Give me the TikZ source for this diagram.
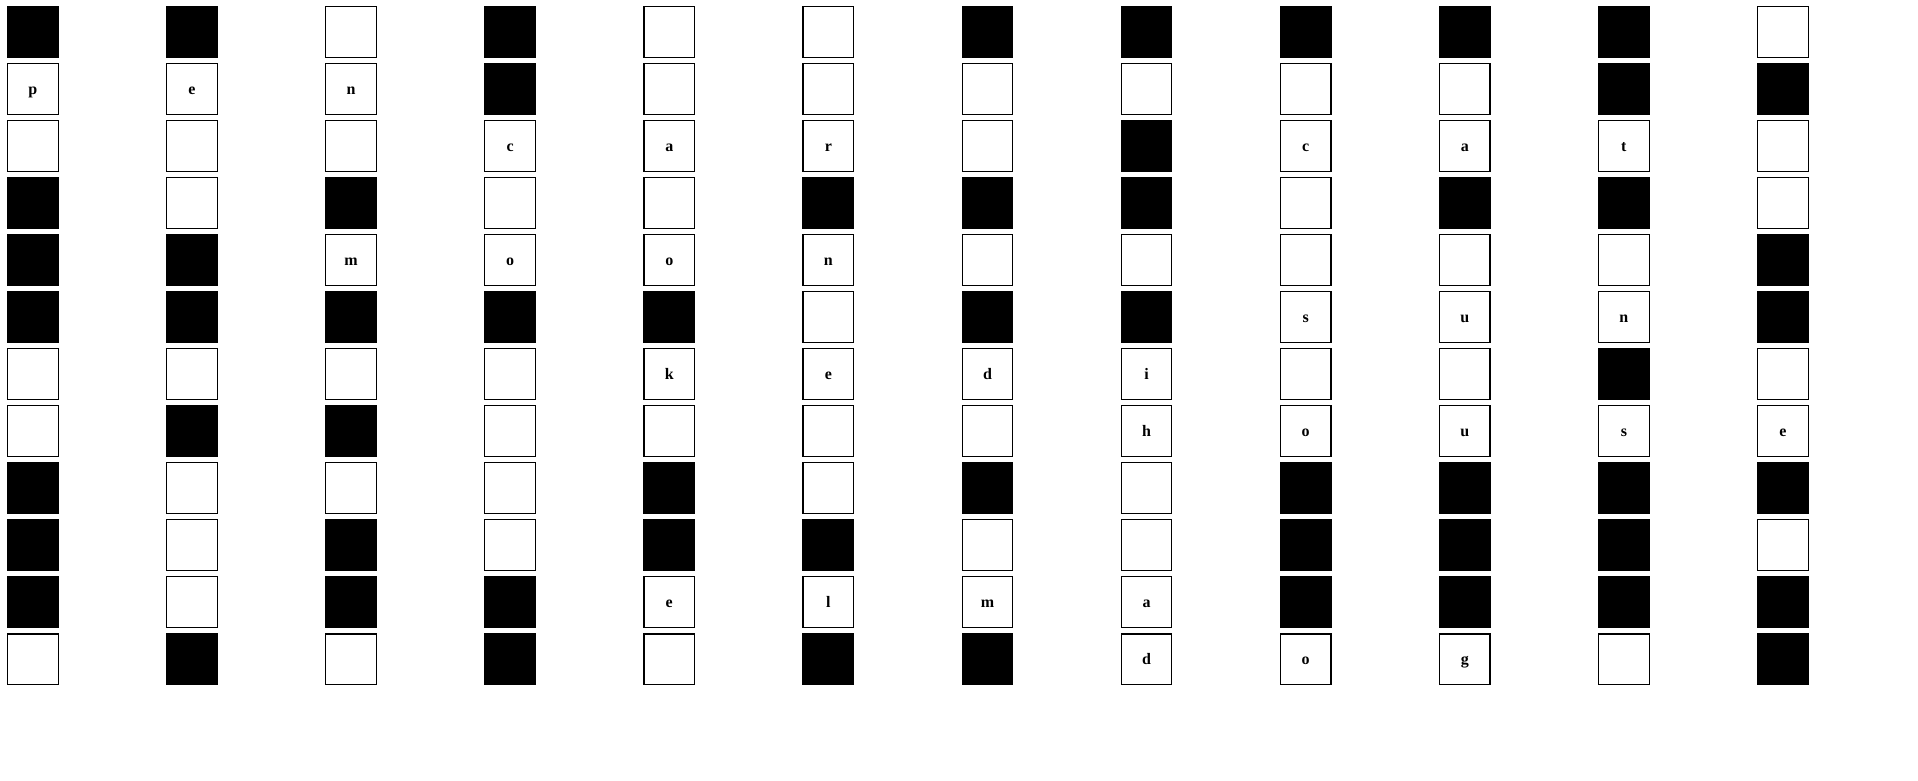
\documentclass[tikz,border=0pt]{standalone}
\usepackage{fontspec}
\setmainfont{Liberation Serif}
\tikzset{
  cellbox/.style={draw=black, line width=0.9pt, minimum size=37.9pt, inner sep=0pt, outer sep=0pt,
    font=\bfseries\fontsize{12}{13}\selectfont, text height=0.46em+4pt, text depth=0pt},
  blackbox/.style={cellbox, fill=black}
}
\begin{document}
\begin{tikzpicture}[x=0.75pt,y=-0.75pt]
\path[use as bounding box] (0,0) rectangle (1918,781);
\foreach \col [count=\i from 0] in {
  {B,p,W,B,B,B,W,W,B,B,B,W},
  {B,e,W,W,B,B,W,B,W,W,W,B},
  {W,n,W,B,m,B,W,B,W,B,B,W},
  {B,B,c,W,o,B,W,W,W,W,B,B},
  {W,W,a,W,o,B,k,W,B,B,e,W},
  {W,W,r,B,n,W,e,W,W,B,l,B},
  {B,W,W,B,W,B,d,W,B,W,m,B},
  {B,W,B,B,W,B,i,h,W,W,a,d},
  {B,W,c,W,W,s,W,o,B,B,B,o},
  {B,W,a,B,W,u,W,u,B,B,B,g},
  {B,B,t,B,W,n,B,s,B,B,B,W},
  {W,B,W,W,B,B,W,e,B,W,B,B}}{
  \foreach \v [count=\j from 0] in \col {
    \if B\v
      \node[blackbox] (c-\i-\j) at ({32.85+159.1*\i},{31.85+57.03*\j}) {};
    \else
      \if W\v
        \node[cellbox] (c-\i-\j) at ({32.85+159.1*\i},{31.85+57.03*\j}) {};
      \else
        \node[cellbox] (c-\i-\j) at ({32.85+159.1*\i},{31.85+57.03*\j}) {\v};
      \fi
    \fi
  }
}
\end{tikzpicture}
\end{document}
